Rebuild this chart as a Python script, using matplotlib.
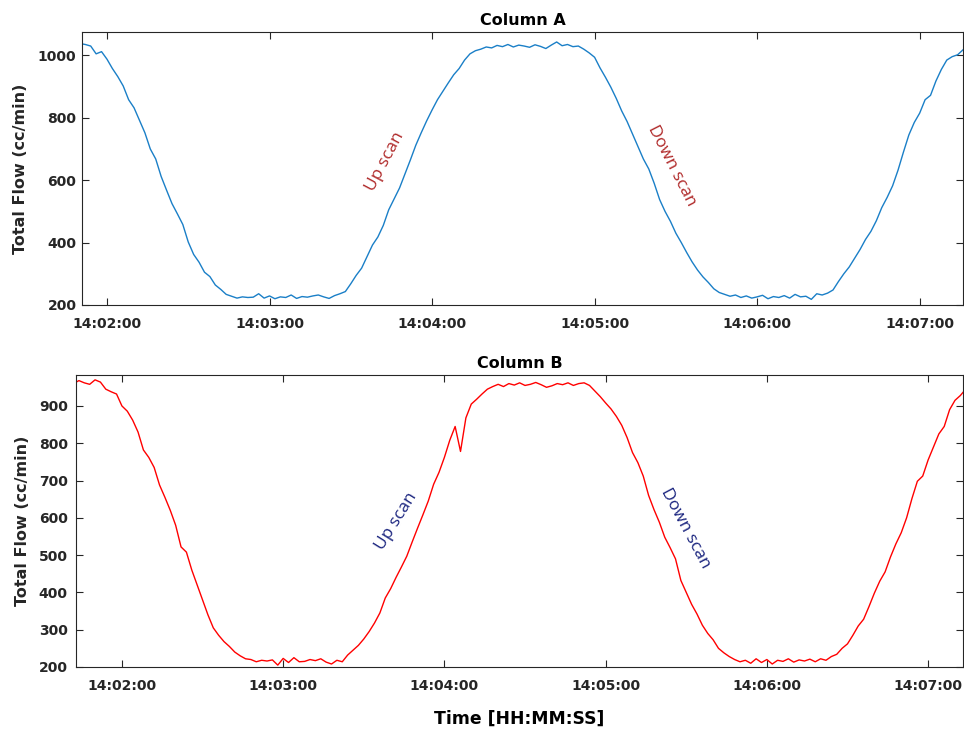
#! /usr/bin/env python3

import numpy as np
import pandas as pd
import matplotlib
matplotlib.use('Agg')
from matplotlib import pyplot as plt
import matplotlib.dates as mdates

# seconds after 14:00:00, one reading every 2 s
startA = 110
flowA = [1038, 1035, 1030, 1005, 1012, 988, 958, 932, 902, 858,
         832, 792, 752, 700, 668, 612, 568, 525, 492, 458,
         402, 362, 337, 305, 291, 264, 250, 234, 228, 222,
         226, 224, 225, 236, 222, 229, 220, 226, 224, 232,
         221, 227, 225, 229, 232, 226, 221, 230, 236, 243,
         268, 295, 318, 355, 392, 418, 455, 505, 540, 575,
         620, 665, 712, 752, 790, 825, 858, 885, 912, 938,
         958, 985, 1005, 1015, 1020, 1027, 1024, 1032, 1028, 1035,
         1027, 1033, 1030, 1026, 1034, 1029, 1022, 1033, 1043, 1031,
         1035, 1028, 1030, 1020, 1008, 994, 960, 930, 898, 862,
         822, 788, 748, 708, 668, 636, 590, 538, 500, 468,
         430, 400, 368, 338, 312, 290, 272, 252, 240, 234,
         228, 232, 224, 229, 222, 226, 231, 220, 227, 224,
         230, 222, 234, 226, 228, 218, 236, 232, 238, 248,
         275, 300, 322, 350, 378, 410, 436, 470, 512, 545,
         582, 632, 690, 745, 785, 815, 858, 872, 918, 955,
         985, 996, 1002, 1018]

startB = 102
flowB = [960, 968, 962, 958, 970, 964, 945, 938, 932, 900,
         886, 862, 830, 782, 762, 735, 688, 655, 620, 580,
         522, 508, 460, 420, 380, 340, 305, 285, 268, 255,
         240, 230, 222, 220, 214, 218, 216, 219, 205, 223,
         212, 225, 214, 215, 220, 217, 222, 213, 208, 218,
         214, 232, 245, 258, 275, 295, 318, 345, 385, 410,
         440, 468, 497, 535, 572, 608, 645, 690, 722, 762,
         808, 845, 778, 868, 905, 918, 932, 945, 952, 958,
         952, 960, 956, 962, 955, 958, 963, 957, 950, 954,
         960, 957, 962, 955, 960, 962, 955, 940, 925, 908,
         892, 872, 848, 815, 775, 748, 712, 660, 622, 588,
         548, 520, 490, 432, 400, 368, 342, 312, 290, 273,
         250, 238, 228, 220, 214, 218, 210, 222, 212, 220,
         208, 218, 215, 222, 213, 219, 216, 221, 214, 222,
         218, 228, 234, 250, 262, 285, 310, 328, 362, 398,
         430, 455, 495, 530, 560, 600, 652, 698, 712, 755,
         790, 825, 845, 890, 915, 928, 945]

base = pd.Timestamp('2020-01-01 14:00:00')

def to_time(sec):
    return base + pd.to_timedelta(sec, unit='s')

timeA = to_time(np.arange(len(flowA)) * 2 + startA)
timeB = to_time(np.arange(len(flowB)) * 2 + startB)

axcol = '#262626'
plt.rcParams['font.family'] = 'DejaVu Sans'

fig = plt.figure(figsize=(9.64, 7.34), dpi=100)
axA = fig.add_axes([0.0851, 0.5845, 0.9139, 0.3719])
axB = fig.add_axes([0.0788, 0.0913, 0.9202, 0.3978])

axA.plot(timeA, flowA, color='#1a7fc7', lw=1.0)
axB.plot(timeB, flowB, color='#ff0000', lw=1.0)

axA.set_xlim(to_time(110.8), to_time(436))
axA.set_ylim(200, 1075)
axA.set_yticks([200, 400, 600, 800, 1000])
axB.set_xlim(to_time(102.9), to_time(433))
axB.set_ylim(200, 983)
axB.set_yticks(range(200, 901, 100))

for ax, title, ypad, lx in [(axA, 'Column A', 4, -0.0613), (axB, 'Column B', 6, -0.0519)]:
    ax.xaxis.set_major_locator(mdates.MinuteLocator())
    ax.xaxis.set_major_formatter(mdates.DateFormatter('%H:%M:%S'))
    ax.tick_params(axis='both', direction='in', length=5, width=0.8, colors=axcol,
                   top=True, right=True, labelsize=10)
    ax.tick_params(axis='x', pad=9)
    ax.tick_params(axis='y', pad=ypad)
    for lab in ax.get_xticklabels() + ax.get_yticklabels():
        lab.set_fontweight('bold')
    for s in ax.spines.values():
        s.set_color(axcol)
        s.set_linewidth(0.8)
    ax.set_title(title, fontsize=11.5, fontweight='bold', pad=5)
    ax.set_ylabel('Total Flow (cc/min)', fontsize=11.5, fontweight='bold', color=axcol)
    ax.yaxis.set_label_coords(lx, 0.5)

axB.set_xlabel('Time [HH:MM:SS]', fontsize=12.4, fontweight='bold', labelpad=12)

# scan labels
red = '#b02a2a'
navy = '#1c2680'
axA.text(to_time(222.5), 659, 'Up scan', rotation=62, color=red, family='Open Sans',
         fontsize=12.5, ha='center', va='center', rotation_mode='anchor')
axA.text(to_time(328.4), 646, 'Down scan', rotation=-63, color=red, family='Open Sans',
         fontsize=12.5, ha='center', va='center', rotation_mode='anchor')
axB.text(to_time(222.2), 590, 'Up scan', rotation=58, color=navy, family='Open Sans',
         fontsize=12.5, ha='center', va='center', rotation_mode='anchor')
axB.text(to_time(329.5), 572, 'Down scan', rotation=-62, color=navy, family='Open Sans',
         fontsize=12.5, ha='center', va='center', rotation_mode='anchor')

fig.savefig('out.png', dpi=100, facecolor='white')
